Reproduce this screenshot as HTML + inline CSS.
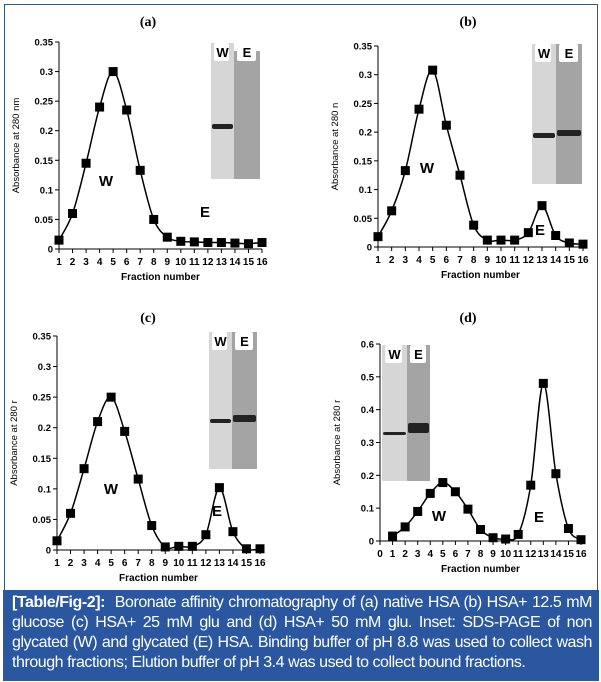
<!DOCTYPE html>
<html><head><meta charset="utf-8"><style>
body{margin:0;background:#fff;width:601px;height:682px;overflow:hidden;font-family:"Liberation Sans",sans-serif}
#frame{position:absolute;left:4px;top:4px;width:592px;height:586px;border:1.5px solid #34557f;border-bottom:none}
#cap{position:absolute;left:3px;top:590px;width:580px;height:88px;background:#2b57a0;color:#fff;font-size:16px;line-height:20px;padding:3px 7px 0 9px;text-align:justify;letter-spacing:-0.45px}
svg{position:absolute;left:0;top:0}
</style></head><body>
<div id="frame"></div>
<svg id="s" width="601" height="590" font-family="Liberation Sans, sans-serif"></svg>
<div id="cap"><b>[Table/Fig-2]:</b>&nbsp; Boronate affinity chromatography of (a) native HSA (b) HSA+ 12.5 mM glucose (c) HSA+ 25 mM glu and (d) HSA+ 50 mM glu. Inset: SDS-PAGE of non glycated (W) and glycated (E) HSA. Binding buffer of pH 8.8 was used to collect wash through fractions; Elution buffer of pH 3.4 was used to collect bound fractions.</div>
<script>
var s=document.getElementById('s'),h='';
function plot(o){
 var x0=o.ax,x1=o.ax+o.w,yt=o.top,yb=o.bot;
 function X(v){return x0+(v-o.xmin)/(16-o.xmin)*o.w}
 function Y(v){return yb-(v/o.ymax)*(yb-yt)}
 h+='<text x="'+o.tx+'" y="'+o.ty+'" font-family="Liberation Serif,serif" font-weight="bold" font-size="14" text-anchor="middle">'+o.t+'</text>';
 var i=o.ins;
 h+='<rect x="'+i.x+'" y="'+i.y+'" width="'+(i.m-i.x)+'" height="'+i.h+'" fill="#d6d6d6"/>';
 h+='<rect x="'+i.m+'" y="'+(i.y+i.eo)+'" width="'+(i.r-i.m)+'" height="'+(i.h-i.eo)+'" fill="#a4a4a4"/>';
 h+='<rect x="'+(i.x+3)+'" y="'+i.y+'" width="'+(i.m-i.x-8)+'" height="18" fill="#fff" rx="2"/>';
 h+='<rect x="'+(i.m+3)+'" y="'+i.y+'" width="'+(i.r-i.m-7)+'" height="18" fill="#fff" rx="2"/>';
 h+='<text x="'+(i.x+i.m)/2+'" y="'+(i.y+14)+'" font-size="13" font-weight="bold" text-anchor="middle">W</text>';
 h+='<text x="'+(i.m+i.r)/2+'" y="'+(i.y+14)+'" font-size="13" font-weight="bold" text-anchor="middle">E</text>';
 if(i.bw)h+='<rect x="'+(i.x+1)+'" y="'+i.bw+'" width="'+(i.m-i.x-2)+'" height="'+i.bwh+'" fill="#222" rx="2"/>';
 if(i.be)h+='<rect x="'+(i.m+1)+'" y="'+i.be+'" width="'+(i.r-i.m-2)+'" height="'+i.beh+'" fill="#222" rx="2"/>';
 h+='<line x1="'+x0+'" y1="'+yt+'" x2="'+x0+'" y2="'+yb+'" stroke="#000"/>';
 h+='<line x1="'+x0+'" y1="'+yb+'" x2="'+x1+'" y2="'+yb+'" stroke="#000"/>';
 for(var k=0;k<o.yt.length;k++){var v=o.yt[k],y=Y(v);
  h+='<line x1="'+(x0-4)+'" y1="'+y+'" x2="'+x0+'" y2="'+y+'" stroke="#000"/>';
  h+='<text x="'+(x0-6)+'" y="'+(y+3.5)+'" font-size="9.5" font-weight="bold" text-anchor="end">'+v+'</text>';}
 for(var v=o.xmin;v<=16;v++){var x=X(v);
  h+='<line x1="'+x+'" y1="'+yb+'" x2="'+x+'" y2="'+(yb+4)+'" stroke="#000"/>';
  h+='<text x="'+x+'" y="'+(yb+16)+'" font-size="10" font-weight="bold" text-anchor="middle">'+v+'</text>';}
 h+='<text x="'+(x0+o.w/2)+'" y="'+(yb+31)+'" font-size="10" font-weight="bold" text-anchor="middle">Fraction number</text>';
 h+='<text transform="translate('+(x0-40)+','+((yt+yb)/2)+') rotate(-90)" font-size="9.5" text-anchor="middle">'+o.yl+'</text>';
 var P=o.d.map(function(v,j){return [X(j+1),Y(v)]});
 var d='M'+P[0][0]+','+P[0][1];
 for(var j=0;j<P.length-1;j++){var p0=P[Math.max(j-1,0)],p1=P[j],p2=P[j+1],p3=P[Math.min(j+2,P.length-1)];
  d+=' C'+(p1[0]+(p2[0]-p0[0])/6)+','+(p1[1]+(p2[1]-p0[1])/6)+' '+(p2[0]-(p3[0]-p1[0])/6)+','+(p2[1]-(p3[1]-p1[1])/6)+' '+p2[0]+','+p2[1];}
 h+='<path d="'+d+'" fill="none" stroke="#000" stroke-width="1.5"/>';
 P.forEach(function(p){h+='<rect x="'+(p[0]-4.5)+'" y="'+(p[1]-4.5)+'" width="9" height="9" fill="#000"/>';});
 h+='<text x="'+o.W[0]+'" y="'+o.W[1]+'" font-size="15" font-weight="bold" text-anchor="middle">W</text>';
 h+='<text x="'+o.E[0]+'" y="'+o.E[1]+'" font-size="15" font-weight="bold" text-anchor="middle">E</text>';
}
var t35=[0,0.05,0.1,0.15,0.2,0.25,0.3,0.35];
plot({t:'(a)',tx:148,ty:26,ax:59,w:203,xmin:1,top:42,bot:249,ymax:0.35,yt:t35,yl:'Absorbance at 280 nm',
 d:[.015,.06,.145,.24,.3,.235,.133,.05,.02,.013,.012,.011,.011,.01,.009,.011],W:[106,186],E:[205,217],
 ins:{x:211,m:234,r:260,y:43,h:136,eo:8,bw:124,bwh:5}});
plot({t:'(b)',tx:468,ty:26,ax:378,w:205,xmin:1,top:46,bot:247,ymax:0.35,yt:t35,yl:'Absorbance at 280 n',
 d:[.018,.063,.133,.24,.308,.212,.125,.038,.012,.012,.012,.025,.072,.02,.007,.005],W:[427,173],E:[540,235],
 ins:{x:532,m:556,r:582,y:44,h:140,eo:0,bw:133,bwh:5,be:130,beh:6}});
plot({t:'(c)',tx:148,ty:322,ax:57,w:203,xmin:1,top:336,bot:550,ymax:0.35,yt:t35,yl:'Absorbance at 280 r',
 d:[.015,.06,.133,.21,.25,.194,.116,.04,.005,.006,.006,.025,.102,.03,.002,.002],W:[111,494],E:[217,516],
 ins:{x:209,m:232,r:257,y:332,h:137,eo:0,bw:419,bwh:4,be:415,beh:7}});
plot({t:'(d)',tx:468,ty:322,ax:380,w:201,xmin:0,top:344,bot:541,ymax:0.6,yt:[0,0.1,0.2,0.3,0.4,0.5,0.6],yl:'Absorbance at 280 r',
 d:[.015,.043,.09,.145,.178,.15,.097,.035,.01,.006,.02,.17,.48,.205,.038,.004],W:[439,521],E:[539,522],
 ins:{x:382,m:407,r:430,y:345,h:136,eo:0,bw:432,bwh:3,be:423,beh:10}});
s.innerHTML=h;
</script>
</body></html>
